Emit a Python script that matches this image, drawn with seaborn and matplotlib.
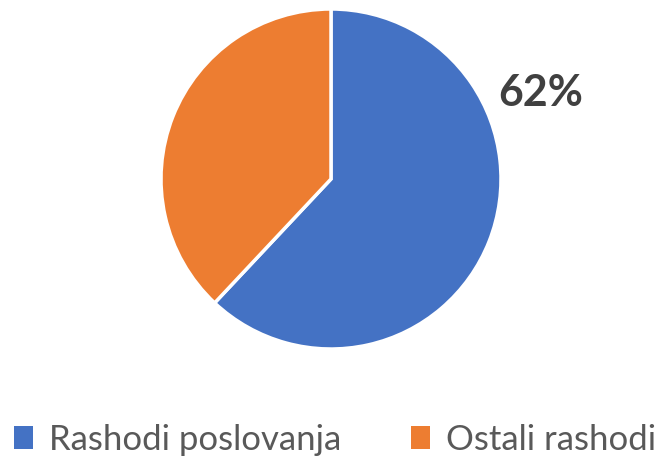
import matplotlib
matplotlib.use("Agg")
import matplotlib.pyplot as plt
import seaborn as sns
from matplotlib.patches import Patch

categories = ["Rashodi poslovanja", "Ostali rashodi"]
values = [62, 38]
colors = ["#4472C4", "#ED7D31"]
shown_labels = ["62%", ""]

sns.set_theme(style="white")
plt.rcParams['font.family'] = ['Lato', 'DejaVu Sans']

W, H = 669, 461
fig = plt.figure(figsize=(W / 100, H / 100), dpi=100)
ax = fig.add_axes([0, 0, 1, 1])
ax.set_xlim(0, W)
ax.set_ylim(0, H)
ax.set_aspect("equal")
ax.axis("off")

cx, cy, r = 331, H - 179, 170
wedges, _ = ax.pie(values, colors=colors, startangle=90, counterclock=False,
                   center=(cx, cy), radius=r,
                   wedgeprops=dict(edgecolor="white", linewidth=2.5))
ax.set_xlim(0, W)
ax.set_ylim(0, H)

ax.text(541, H - 93, shown_labels[0], ha="center", va="center",
        fontsize=31, fontweight="bold", color="#404040")

handles = [Patch(facecolor=c, edgecolor="none", label=l) for c, l in zip(colors, categories)]
leg = fig.legend(handles=handles, loc="center", bbox_to_anchor=(335 / W, 1 - 440 / H),
                 ncol=2, frameon=False, fontsize=25, handlelength=0.55, handleheight=0.65,
                 handletextpad=0.45, columnspacing=2.0, labelcolor="#595959",
                 borderpad=0, borderaxespad=0)

fig.savefig("out.png", dpi=100)
